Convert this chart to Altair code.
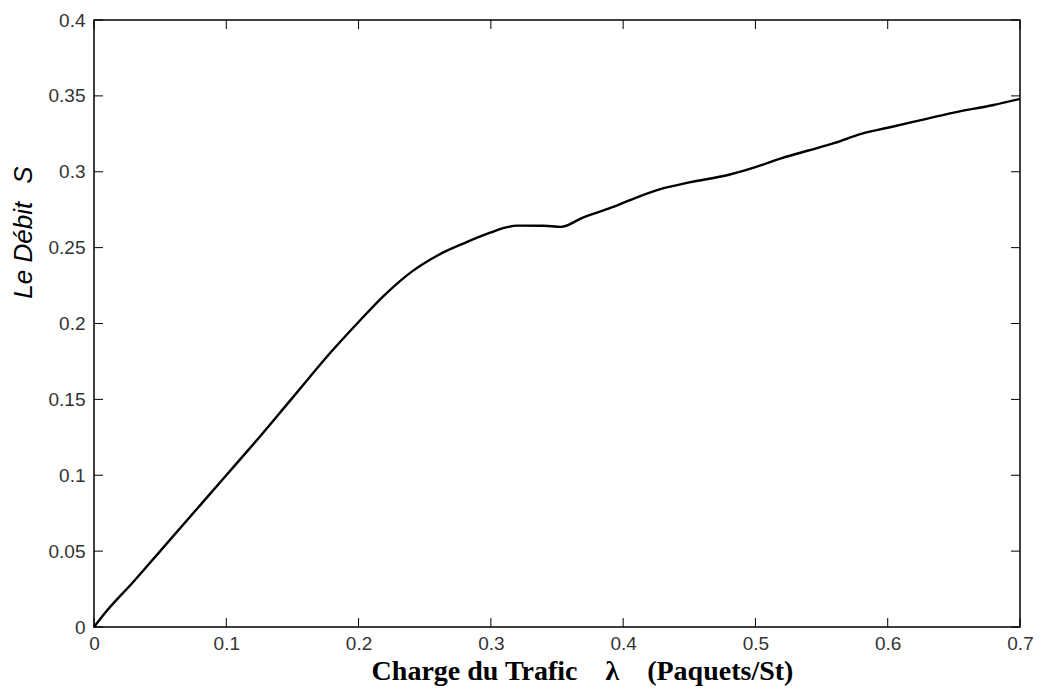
import altair as alt
import pandas as pd

# Curve values
load = [0, 0.01, 0.03, 0.05, 0.08, 0.1, 0.12, 0.15, 0.18, 0.2, 0.22, 0.24, 0.26,
        0.28, 0.3, 0.31, 0.32, 0.34, 0.353, 0.37, 0.39, 0.41, 0.43, 0.45, 0.48,
        0.5, 0.52, 0.54, 0.56, 0.58, 0.6, 0.62, 0.65, 0.68, 0.7]
debit = [0, 0.011, 0.03, 0.05, 0.08, 0.1, 0.12, 0.151, 0.182, 0.201, 0.219, 0.234,
         0.245, 0.253, 0.260, 0.263, 0.2645, 0.2644, 0.2637, 0.270, 0.276, 0.283,
         0.289, 0.293, 0.298, 0.303, 0.309, 0.314, 0.319, 0.325, 0.329, 0.333,
         0.339, 0.344, 0.348]

x_ticks = [0, 0.1, 0.2, 0.3, 0.4, 0.5, 0.6, 0.7]
y_ticks = [0, 0.05, 0.1, 0.15, 0.2, 0.25, 0.3, 0.35, 0.4]

x_title = "Charge du Trafic\u2003\u03bb\u2003(Paquets/St)"
y_title = "Le D\u00e9bit\u2002\u2009S"

W, H = 926, 607
TL = 9  # inner tick length

df = pd.DataFrame({"x": load, "y": debit})
xt = pd.DataFrame({"v": x_ticks})
yt = pd.DataFrame({"v": y_ticks})

xscale = alt.Scale(domain=[0, 0.7], nice=False, zero=False)
yscale = alt.Scale(domain=[0, 0.4], nice=False, zero=False)

xaxis = alt.Axis(values=x_ticks, format="~g", ticks=False, tickSize=0, grid=False,
                 domain=False, labelPadding=7, labelFontSize=19, labelFont="Liberation Sans",
                 labelColor="#333333", title=x_title, titleFont="Liberation Serif",
                 titleFontSize=28, titleFontWeight="bold", titleColor="black",
                 titleX=488, titleY=52, titleAlign="center", titleBaseline="alphabetic",
                 labelFlush=False)
yaxis = alt.Axis(values=y_ticks, format="~g", ticks=False, tickSize=0, grid=False,
                 domain=False, labelPadding=9, labelFontSize=19, labelFont="Liberation Sans",
                 labelColor="#333333", title=y_title, titleFont="Liberation Sans",
                 titleFontSize=26, titleFontWeight="normal", titleFontStyle="italic",
                 titleColor="black", titleX=-71, titleY=212, titleAngle=-90,
                 titleAlign="center", titleBaseline="middle", labelFlush=False)

X = alt.X("x:Q", scale=xscale, axis=xaxis)
Y = alt.Y("y:Q", scale=yscale, axis=yaxis)

line = alt.Chart(df).mark_line(color="black", strokeWidth=2.4, interpolate="monotone").encode(
    x=X, y=Y)

tick_style = dict(color="black", strokeWidth=1)
bottom = alt.Chart(xt).mark_rule(**tick_style).encode(
    x=alt.X("v:Q", scale=xscale, axis=xaxis), y=alt.value(H), y2=alt.value(H - TL))
top = alt.Chart(xt).mark_rule(**tick_style).encode(
    x=alt.X("v:Q", scale=xscale, axis=xaxis), y=alt.value(0), y2=alt.value(TL))
left = alt.Chart(yt).mark_rule(**tick_style).encode(
    y=alt.Y("v:Q", scale=yscale, axis=yaxis), x=alt.value(0), x2=alt.value(TL))
right = alt.Chart(yt).mark_rule(**tick_style).encode(
    y=alt.Y("v:Q", scale=yscale, axis=yaxis), x=alt.value(W), x2=alt.value(W - TL))

chart = alt.layer(line, bottom, top, left, right).properties(
    width=W, height=H,
    autosize=alt.AutoSizeParams(type="none"),
    padding={"left": 86, "top": 12, "right": 14, "bottom": 60},
    background="white",
).configure_view(stroke="black", strokeWidth=1.5)

chart.save("out.html", embed_options={"renderer": "svg", "actions": False})
